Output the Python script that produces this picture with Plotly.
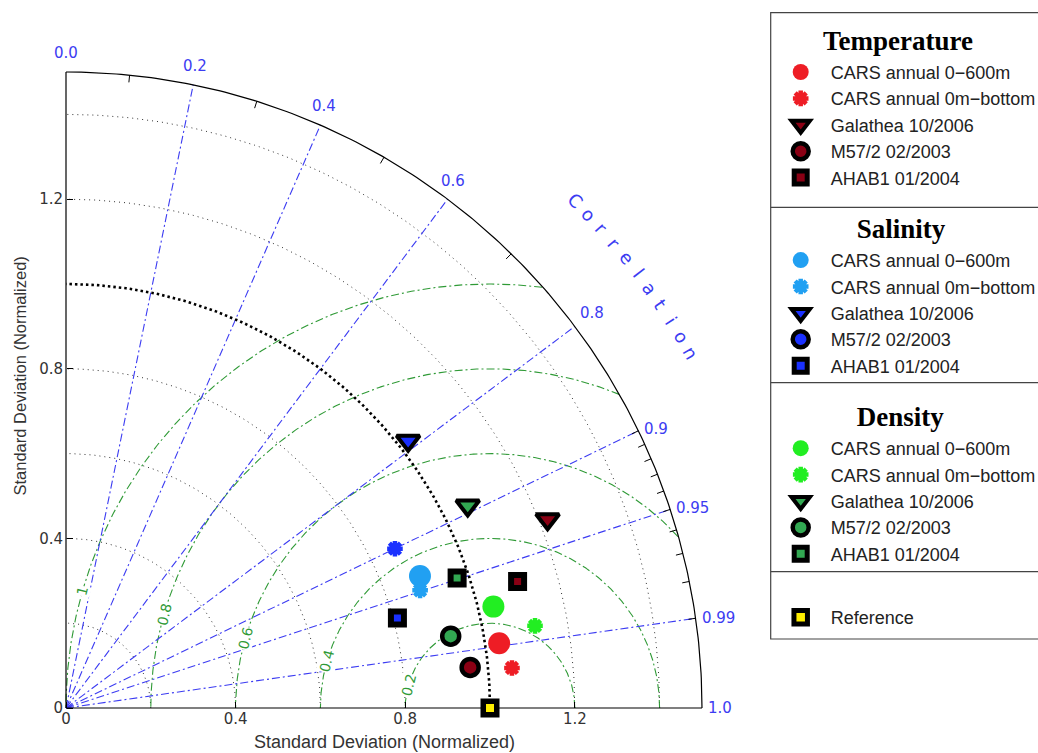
import numpy as np
import plotly.graph_objects as go

# ------------------------------------------------------------------ data
sources = ["CARS annual 0−600m", "CARS annual 0m−bottom", "Galathea 10/2006",
           "M57/2 02/2003", "AHAB1 01/2004"]

temp_std = [1.033, 1.056, 1.220, 0.958, 1.106]
temp_corr = [0.989, 0.996, 0.931, 0.995, 0.963]

sal_std = [0.891, 0.880, 1.024, 0.862, 0.810]
sal_corr = [0.937, 0.949, 0.788, 0.900, 0.965]

dens_std = [1.036, 1.123, 1.061, 0.923, 0.972]
dens_corr = [0.973, 0.985, 0.893, 0.983, 0.949]

ref_std = [1.0]
ref_corr = [1.0]

corr_lines = [0.2, 0.4, 0.6, 0.8, 0.9, 0.95, 0.99]
corr_labels = [0.0, 0.2, 0.4, 0.6, 0.8, 0.9, 0.95, 0.99, 1.0]
corr_label_text = ["0.0", "0.2", "0.4", "0.6", "0.8", "0.9", "0.95", "0.99", "1.0"]
corr_ticks = [0.1, 0.3, 0.5, 0.7, 0.9, 0.91, 0.92, 0.93, 0.94, 0.95,
              0.96, 0.97, 0.98, 0.99]
std_arcs = [0.2, 0.4, 0.6, 0.8, 1.2, 1.4]
std_ref = 1.0
std_max = 1.5
rms_levels = [0.2, 0.4, 0.6, 0.8, 1.0]
rms_text = ["0.2", "0.4", "0.6", "0.8", "1"]
std_tickvals = [0, 0.4, 0.8, 1.2]
std_ticktext = ["0", "0.4", "0.8", "1.2"]

# ------------------------------------------------------------------ geometry
W, H = 1038, 753
OX, OY, S = 66, 708, 424.0
xr = [-OX / S, (W - OX) / S]
yr = [-(H - OY) / S, OY / S]

BLUE = "#3c3cf2"
GREEN = "#2f9a36"
GREY = "#333333"
NB = "\u00a0"


def polar(r, c):
    r = np.asarray(r, float)
    c = np.asarray(c, float)
    return r * c, r * np.sqrt(np.clip(1 - c ** 2, 0, None))


fig = go.Figure()

# standard deviation arcs
th = np.linspace(0, np.pi / 2, 200)
ax_, ay_ = [], []
for r in std_arcs:
    ax_ += list(r * np.cos(th)) + [None]
    ay_ += list(r * np.sin(th)) + [None]
fig.add_trace(go.Scatter(x=ax_, y=ay_, mode="lines", showlegend=False, hoverinfo="skip",
                         line=dict(color="#333333", width=1, dash="1px,4px")))

# rms circles (centred on the reference point)
cx_, cy_ = [], []
phi = np.linspace(0, np.pi, 600)
for R in rms_levels:
    x = std_ref + R * np.cos(phi)
    y = R * np.sin(phi)
    keep = (np.hypot(x, y) <= std_max) & (x >= 0)
    cx_ += [float(a) if k else None for a, k in zip(x, keep)] + [None]
    cy_ += [float(b) if k else None for b, k in zip(y, keep)] + [None]
fig.add_trace(go.Scatter(x=cx_, y=cy_, mode="lines", showlegend=False, hoverinfo="skip",
                         connectgaps=False,
                         line=dict(color=GREEN, width=1.1, dash="8px,3px,2px,3px")))

# correlation rays
lx_, ly_ = [], []
for c in corr_lines:
    ex, ey = polar(std_max, c)
    lx_ += [0, float(ex), None]
    ly_ += [0, float(ey), None]
fig.add_trace(go.Scatter(x=lx_, y=ly_, mode="lines", showlegend=False, hoverinfo="skip",
                         line=dict(color=BLUE, width=1.1, dash="8px,3px,2px,3px")))

# reference std arc (thick dotted)
fig.add_trace(go.Scatter(x=std_ref * np.cos(th), y=std_ref * np.sin(th), mode="lines",
                         showlegend=False, hoverinfo="skip",
                         line=dict(color="black", width=2.6, dash="2.5px,3px")))

# outer arc + axes
ox_ = [0, std_max, None] + list(std_max * np.cos(th)) + [None, 0, 0]
oy_ = [0, 0, None] + list(std_max * np.sin(th)) + [None, 0, std_max]
fig.add_trace(go.Scatter(x=ox_, y=oy_, mode="lines", showlegend=False, hoverinfo="skip",
                         line=dict(color="black", width=1.2)))

# correlation ticks on the outer arc
tx_, ty_ = [], []
for c in corr_ticks:
    x1, y1 = polar(std_max, c)
    x0, y0 = polar(std_max - 0.017, c)
    tx_ += [float(x0), float(x1), None]
    ty_ += [float(y0), float(y1), None]
fig.add_trace(go.Scatter(x=tx_, y=ty_, mode="lines", showlegend=False, hoverinfo="skip",
                         line=dict(color="black", width=1)))

# ------------------------------------------------------------------ data markers
groups = [
    ("Temperature", NB * 7 + "Temperature", temp_std, temp_corr, "#ee1d25", "#8a0014"),
    ("Salinity", NB * 12 + "Salinity", sal_std, sal_corr, "#21a0f2", "#1a30ff"),
    ("Density", NB * 12 + "Density", dens_std, dens_corr, "#22ee22", "#32a852"),
]
title_font = dict(family="Liberation Serif", size=27, color="black", weight="bold")


def marker_for(i, light, dark):
    if i == 0:
        return dict(symbol="circle", size=22, color=light, line=dict(width=0))
    if i == 1:
        return dict(symbol="asterisk-open", size=13, color=light, line=dict(width=4.5, color=light))
    if i == 2:
        return dict(symbol="triangle-down", size=20, color=dark, line=dict(width=4, color="black"))
    if i == 3:
        return dict(symbol="circle", size=17, color=dark, line=dict(width=4.5, color="black"))
    return dict(symbol="square", size=13, color=dark, line=dict(width=6, color="black"))


for gname, gtitle, sd, cc, light, dark in groups:
    for i, src in enumerate(sources):
        x, y = polar([sd[i]], [cc[i]])
        mk = marker_for(i, light, dark)
        common = dict(legendgroup=gname, legendgrouptitle=dict(text=gtitle, font=title_font))
        if gname == "Salinity" and i == 3:
            # drawn on the diagram as a dark-blue asterisk; legend shows the circle
            fig.add_trace(go.Scatter(x=[None], y=[None], mode="markers", name=src,
                                     marker=mk, **common))
            fig.add_trace(go.Scatter(x=x, y=y, mode="markers", name=src, showlegend=False,
                                     legendgroup=gname,
                                     marker=dict(symbol="asterisk-open", size=13, color=dark,
                                                 line=dict(width=4.5, color=dark))))
            continue
        fig.add_trace(go.Scatter(x=x, y=y, mode="markers", name=src, marker=mk, **common))

x, y = polar(ref_std, ref_corr)
fig.add_trace(go.Scatter(x=x, y=y, mode="markers", name="Reference", legendgroup="ref",
                         legendgrouptitle=dict(text=NB, font=dict(family="Liberation Serif",
                                                                  size=10)),
                         marker=dict(symbol="square", size=13.5, color="#ffee00",
                                     line=dict(width=5.5, color="black"))))

# ------------------------------------------------------------------ annotations
ann = []
for c, t in zip(corr_labels, corr_label_text):
    ang = np.degrees(np.arccos(c))
    if ang > 50:
        x, y = polar(1.52, c)
        ann.append(dict(x=float(x), y=float(y), text=t, showarrow=False, xanchor="center",
                        yanchor="bottom", font=dict(family="DejaVu Sans", size=15, color=BLUE)))
    else:
        x, y = polar(1.51, c)
        ann.append(dict(x=float(x), y=float(y), text=t, showarrow=False, xanchor="left",
                        yanchor="bottom" if ang > 30 else "middle",
                        font=dict(family="DejaVu Sans", size=15, color=BLUE)))

# "Correlation" along an arc
word = "Correlation"
angs = np.linspace(44.9, 29.6, len(word))
for ch, a in zip(word, angs):
    ar = np.radians(a)
    ann.append(dict(x=1.695 * np.cos(ar), y=1.695 * np.sin(ar), text=ch, showarrow=False,
                    textangle=90 - a, font=dict(family="DejaVu Sans", size=18, color=BLUE)))

# rms labels
lab_phi = np.radians(164)
for R, t in zip(rms_levels, rms_text):
    ann.append(dict(x=std_ref + R * np.cos(lab_phi), y=R * np.sin(lab_phi), text=t,
                    showarrow=False, textangle=-76, bgcolor="white", borderpad=0,
                    font=dict(family="DejaVu Sans", size=14, color=GREEN)))

# axis titles
ann.append(dict(x=0.75, y=(OY - 742) / S, text="Standard Deviation (Normalized)",
                showarrow=False, xanchor="center", yanchor="middle",
                font=dict(family="Liberation Sans", size=18, color=GREY)))
ann.append(dict(x=(19.5 - OX) / S, y=(OY - 376) / S, text="Standard Deviation (Normalized)",
                showarrow=False, textangle=-90, xanchor="center", yanchor="middle",
                font=dict(family="Liberation Sans", size=16.5, color=GREY)))

# legend box and section separators
LX0, LTOP, LBOT = 770.7, 12.7, 639.0
shapes = [dict(type="rect", xref="paper", yref="paper", x0=LX0 / W, x1=1.1,
               y0=1 - LBOT / H, y1=1 - LTOP / H, line=dict(color="#444444", width=1.2),
               fillcolor="rgba(0,0,0,0)")]
for py in [207.3, 382.7, 571.7]:
    shapes.append(dict(type="line", xref="paper", yref="paper", x0=LX0 / W, x1=1.1,
                       y0=1 - py / H, y1=1 - py / H, line=dict(color="#444444", width=1.2)))

fig.update_layout(
    width=W, height=H,
    margin=dict(l=0, r=0, t=0, b=0, autoexpand=False),
    paper_bgcolor="white", plot_bgcolor="white",
    xaxis=dict(range=xr, domain=[0, 1], anchor="free", position=(H - OY) / H,
               showgrid=False, zeroline=False, showline=False, fixedrange=True,
               tickmode="array", tickvals=std_tickvals, ticktext=std_ticktext,
               ticks="inside", ticklen=6, tickcolor="black",
               tickfont=dict(family="DejaVu Sans", size=15, color=GREY)),
    yaxis=dict(range=yr, domain=[0, 1], anchor="free", position=OX / W,
               showgrid=False, zeroline=False, showline=False, fixedrange=True,
               tickmode="array", tickvals=std_tickvals, ticktext=std_ticktext,
               ticks="inside", ticklen=6, tickcolor="black", ticklabelstandoff=3,
               tickfont=dict(family="DejaVu Sans", size=15, color=GREY)),
    annotations=ann,
    shapes=shapes,
    showlegend=True,
    legend=dict(x=LX0 / W, y=1 - (LTOP + 3) / H, xanchor="left", yanchor="top",
                bgcolor="rgba(0,0,0,0)", borderwidth=0,
                traceorder="grouped", tracegroupgap=18, itemwidth=50,
                font=dict(family="Liberation Sans", size=18, color="#222222")),
)

fig.write_html("out.html", config={"displayModeBar": False},
               post_script="document.body.style.margin='0';"
                           "document.documentElement.style.overflow='hidden';")
